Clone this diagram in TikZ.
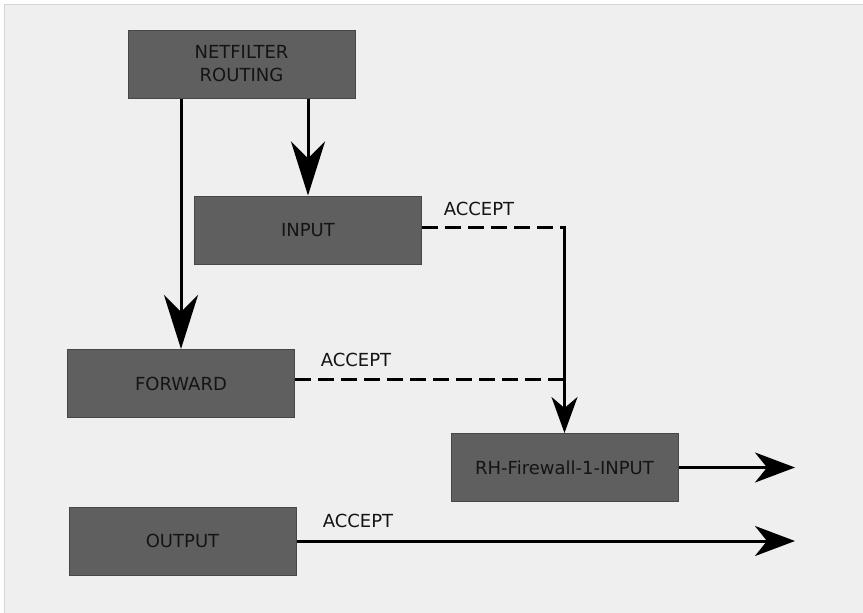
\documentclass[tikz,border=0pt]{standalone}
\usepackage{fontspec}
\setmainfont{DejaVu Sans}
\usetikzlibrary{arrows.meta}
\definecolor{bgcol}{HTML}{EFEFEF}
\definecolor{framecol}{HTML}{D6D6D6}
\definecolor{boxfill}{HTML}{5F5F5F}
\definecolor{boxline}{HTML}{474747}
\definecolor{txt}{HTML}{141414}
\tikzset{
  chainbox/.style={draw=boxline, line width=1pt, fill=boxfill, minimum width=227pt, minimum height=68pt, inner sep=0pt, align=center, text=txt, font=\fontsize{18}{23}\selectfont},
  lbl/.style={text=txt, font=\fontsize{18}{23}\selectfont, inner sep=0pt},
  conn/.style={line width=3pt, black},
  dashconn/.style={line width=3pt, black, dash pattern=on 16pt off 7pt},
  bigtip/.style={-{Stealth[length=54pt, width=34pt, inset=17pt]}},
  midtip/.style={-{Stealth[length=36pt, width=26pt, inset=11pt]}},
  sidetip/.style={-{Stealth[length=40pt, width=30pt, inset=12pt]}}
}
\begin{document}
\begin{tikzpicture}[x=1pt, y=-1pt]
\useasboundingbox (0,0) rectangle (863,613);
\fill[white] (0,0) rectangle (863,613);
\fill[bgcol] (4,4) rectangle (863,613);
\draw[framecol, line width=1.5pt] (4.5,613) -- (4.5,4.5) -- (863,4.5);

\node[chainbox] (nf) at (241.5,64) {NETFILTER\\ROUTING};
\node[chainbox] (inp) at (308,230) {INPUT};
\node[chainbox] (fw) at (181,383.5) {FORWARD};
\node[chainbox] (rh) at (564.5,467.5) {RH-Firewall-1-INPUT};
\node[chainbox] (out) at (182.5,541) {OUTPUT};

\coordinate (e1) at (795,467.5);
\coordinate (e2) at (795,541);

\draw[conn, bigtip] (nf.south -| fw.north) -- (fw.north);
\draw[conn, bigtip] (nf.south -| inp.north) -- (inp.north);

\draw[dashconn] ([yshift=3pt]inp.east) -- ([yshift=3pt]inp.east -| rh.north) coordinate (j1);
\draw[dashconn] ([yshift=4.5pt]fw.east) -- ([yshift=4.5pt]fw.east -| rh.north) coordinate (j2);
\draw[conn, midtip] ([yshift=1.5pt]j1) -- (rh.north);

\draw[conn, sidetip] (rh.east) -- (e1);
\draw[conn, sidetip] (out.east) -- (e2);

\node[lbl] (a1) at (479,209) {ACCEPT};
\node[lbl] (a2) at (356,359.5) {ACCEPT};
\node[lbl] (a3) at (358,521) {ACCEPT};
\end{tikzpicture}
\end{document}
